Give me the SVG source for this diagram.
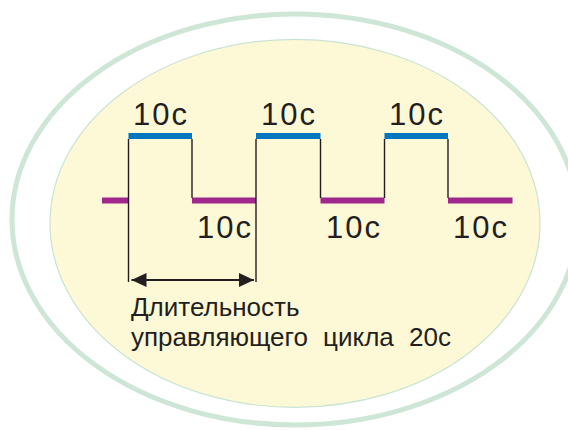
<svg xmlns="http://www.w3.org/2000/svg" width="568" height="430" viewBox="0 0 568 430">
<defs>
<style>
.lbl{font-family:"Liberation Sans",Arial,sans-serif;font-size:31px;fill:#231f20;letter-spacing:2px}
.cap{font-family:"Liberation Sans",Arial,sans-serif;font-size:26px;fill:#231f20}
.hi{stroke:#0077c0;stroke-width:6;fill:none}
.lo{stroke:#a0288c;stroke-width:6;fill:none}
.edge{stroke:#231f20;stroke-width:1.4;fill:none}
</style>
<marker id="ah" viewBox="0 0 15 14" refX="15" refY="7" markerWidth="15" markerHeight="14" markerUnits="userSpaceOnUse" orient="auto-start-reverse">
<path d="M0,0 L15,7 L0,14 Z" fill="#231f20"/>
</marker>
</defs>
<rect width="568" height="430" fill="#ffffff"/>
<g id="background">
<ellipse cx="295" cy="219.5" rx="283" ry="205.5" fill="none" stroke="#cde6d6" stroke-width="5"/>
<ellipse cx="295" cy="223.3" rx="245" ry="184" fill="#fdf8d6" stroke="#c8e4d4" stroke-width="1.2"/>
</g>
<g id="signal">
<line class="lo" x1="102" y1="200.5" x2="128.5" y2="200.5"/>
<line class="hi" x1="128.5" y1="136" x2="192" y2="136"/>
<line class="lo" x1="192" y1="200.5" x2="256" y2="200.5"/>
<line class="hi" x1="256" y1="136" x2="320.5" y2="136"/>
<line class="lo" x1="320.5" y1="200.5" x2="384.5" y2="200.5"/>
<line class="hi" x1="384.5" y1="136" x2="448" y2="136"/>
<line class="lo" x1="448" y1="200.5" x2="512.5" y2="200.5"/>
</g>
<g id="connectors">
<line class="edge" x1="128.5" y1="139" x2="128.5" y2="282"/>
<line class="edge" x1="192" y1="139" x2="192" y2="198"/>
<line class="edge" x1="256" y1="139" x2="256" y2="282"/>
<line class="edge" x1="320.5" y1="139" x2="320.5" y2="198"/>
<line class="edge" x1="384.5" y1="139" x2="384.5" y2="198"/>
<line class="edge" x1="448" y1="139" x2="448" y2="198"/>
<line x1="131.5" y1="280" x2="254" y2="280" stroke="#231f20" stroke-width="2.2" marker-start="url(#ah)" marker-end="url(#ah)"/>
</g>
<g id="labels">
<text class="lbl" x="133" y="125">10c</text>
<text class="lbl" x="261" y="125">10c</text>
<text class="lbl" x="389" y="125">10c</text>
<text class="lbl" x="197" y="237.5">10c</text>
<text class="lbl" x="326" y="237.5">10c</text>
<text class="lbl" x="453" y="237.5">10c</text>
</g>
<g id="caption">
<text class="cap" x="131" y="316">Длительность</text>
<text class="cap" x="131" y="346" word-spacing="8">управляющего цикла 20с</text>
</g>
</svg>
